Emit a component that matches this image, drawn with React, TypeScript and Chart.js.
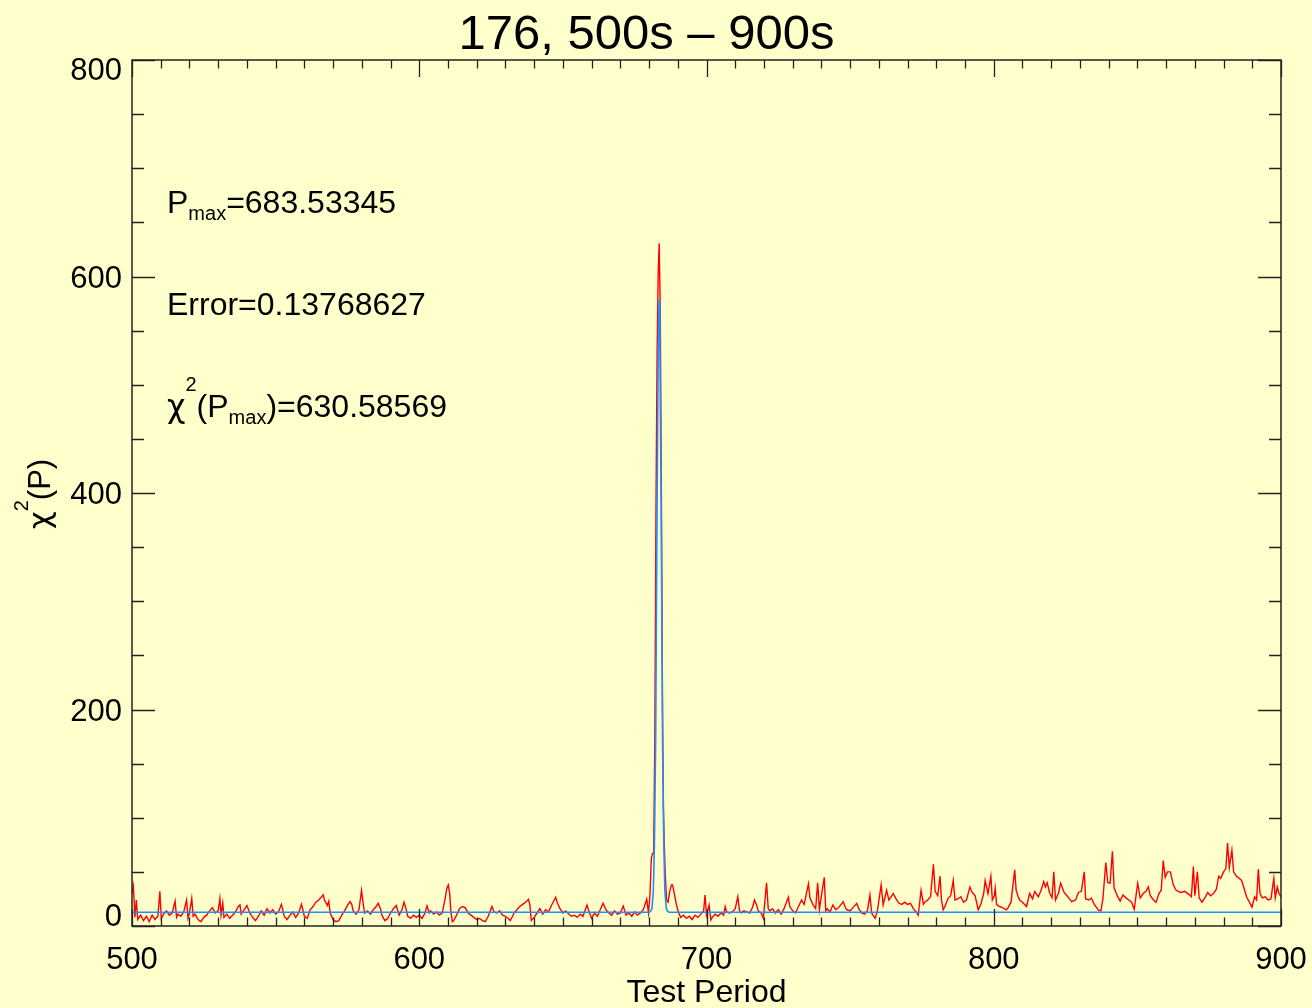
import React, { useEffect, useRef } from 'react';
import { Chart, registerables } from 'chart.js';

Chart.register(...registerables);

const FONT = '"Liberation Sans", Arial, Helvetica, sans-serif';
const GREEK_FONT = '"DejaVu Sans", "Liberation Sans", sans-serif';
const BG = '#FFFFCC';
const TITLE = '176, 500s \u2013 900s';
const X_TITLE = 'Test Period';
const X_RANGE = [500, 900];
const Y_RANGE = [0, 800];
const X_MAJOR_TICKS = [500, 600, 700, 800, 900];
const Y_MAJOR_TICKS = [0, 200, 400, 600, 800];
const X_MINOR_STEP = 10;
const Y_MINOR_STEP = 50;

const P_MAX_TEXT = '=683.53345';
const ERROR_TEXT = 'Error=0.13768627';
const CHI_MAX_TEXT = ')=630.58569';

// chi^2(P) observed (red) : [test period, chi^2]
const red500: number[][] = [
  [500, 30], [500.5, 37], [501, 8], [501.5, 24], [502, 6], [503, 10], [504, 5], [505, 9], [506, 4], [507, 10],
  [508, 6], [509, 9], [509.7, 32], [510.2, 7], [511, 11], [512, 14], [513, 10], [514, 12], [515, 23], [515.5, 8],
  [516, 11], [517, 9], [518, 13], [519, 24], [519.5, 7], [520, 12], [520.8, 25.5], [521.3, 9], [522, 11], [523, 6],
  [524, 4], [525, 8], [526, 10], [527, 14], [528, 17], [529, 12], [530, 14], [530.6, 25.6], [531, 10], [531.6, 21],
  [532, 8], [533, 11], [534, 7], [535, 10], [536, 13], [537, 18], [537.6, 19.5], [538, 11], [539, 15], [540, 19],
  [541, 12], [542, 8], [543, 5], [544, 9], [545, 14], [546, 10], [547, 16], [548, 12], [549, 15], [550, 11],
  [551, 13], [552, 20], [553, 9], [554, 6], [555, 10], [556, 13], [557, 8], [558, 12], [559, 20], [560, 9],
  [561, 7], [562, 15], [563, 18], [564, 22], [565, 24], [566, 27], [566.6, 28.7], [567, 24], [568, 19], [568.5, 23],
  [569, 12], [570, 6], [571, 4], [572, 5], [573, 10], [574, 14], [575, 19], [575.9, 22.5], [576.5, 20], [577, 14],
  [578, 11], [579, 15], [579.9, 33], [580.5, 20], [581, 12], [582, 14], [583, 11], [584, 15], [585, 18], [585.7, 21],
  [586.5, 16], [587, 10], [588, 5], [589, 7], [590, 12], [591, 16], [592, 19], [593, 10], [594, 15], [594.7, 22],
  [595.3, 17], [596, 9], [597, 7], [598, 10], [599, 8],
];

const red600: number[][] = [
  [600, 10], [601, 7], [602, 12], [602.7, 18.5], [603.5, 12], [604, 14], [605, 11], [606, 13], [607, 10], [608, 12],
  [609, 25], [609.6, 35], [610.1, 38], [610.6, 30], [611, 14], [611.5, 4], [612, 5], [613, 10], [614, 16], [615, 18],
  [616, 17], [617, 12], [618, 10], [619, 8], [620, 6], [621, 7], [622, 5], [623, 4], [624, 9], [625.3, 18],
  [626, 13], [627, 12], [628, 14], [629, 10], [630, 9], [631, 7], [631.7, 5], [632.5, 9], [633, 12], [634, 15],
  [635, 18], [636, 20], [637, 22], [638, 24.7], [638.5, 20], [639, 5], [640, 8], [641, 12], [642, 16], [643, 11],
  [644, 15], [645, 13], [646, 19], [647, 24], [647.5, 26.5], [648, 22], [649, 16], [650, 12], [651, 14], [652, 11],
  [653, 9], [654, 10], [655, 8], [656, 11], [657, 9], [658.4, 19.4], [659, 14], [660, 7], [661, 12], [662, 9],
  [663, 15], [664, 21], [665, 15], [666, 12], [667, 10], [668, 14], [669, 11], [670, 12], [671, 18.5], [672, 10],
  [673, 12], [674, 9], [675, 13], [676, 10], [677, 12], [678, 15], [679.2, 24.7], [679.8, 12], [680.3, 28], [680.8, 62],
  [681.2, 67], [681.6, 67], [682, 170], [682.4, 380], [682.8, 530], [683.2, 605], [683.53, 630.6], [683.9, 570], [684.3, 400], [684.7, 200],
  [685, 110], [685.3, 75], [685.7, 45], [686.1, 24], [686.6, 22], [687.2, 32], [687.8, 38], [688.2, 38], [688.8, 30], [689.5, 20],
  [690.2, 13], [691, 8], [692, 10], [693, 7], [694, 9], [695, 6], [696, 10], [697, 8], [698, 11], [699, 14],
  [699.5, 28.7],
];

const red700: number[][] = [
  [700, 10], [700.9, 19.4], [701.5, 5.5], [702, 8], [703, 11], [704, 9], [705, 12], [706, 10], [706.5, 18], [707, 13],
  [708, 12], [709, 13], [710, 16], [710.9, 27], [711.5, 14], [712, 12], [713, 14], [714, 13], [715, 12], [716, 17],
  [716.7, 24], [717.5, 19], [718, 14], [719, 12], [719.8, 7], [720.9, 40], [721.5, 16], [722, 14], [723, 16], [724, 12],
  [725, 15], [726, 11], [727, 16], [728.5, 26.5], [729, 18], [730, 14], [731, 12], [732, 18], [733.1, 24], [734, 20],
  [735.5, 39], [736, 26], [737, 20], [738, 16], [738.7, 40], [739.3, 15], [740, 28], [741, 45], [741.5, 14], [742, 16],
  [743, 13], [744, 19.4], [745, 15], [746, 17], [747.6, 22.5], [748.5, 16], [749, 15], [750, 14], [751, 17], [752.3, 21],
  [753, 16], [754, 12], [755, 11], [756, 14], [756.9, 28.7], [757.5, 12], [758.7, 7], [759.5, 14], [760.8, 38], [761.5, 19.4],
  [762.7, 33], [763.5, 24], [765, 30], [766, 25], [767, 21], [768, 20], [769, 22], [770, 20], [771, 21], [772, 16],
  [773, 13], [773.7, 10], [774.7, 33], [775.5, 20], [776, 22], [777, 24], [778, 27], [779, 57], [779.6, 32], [780.5, 28],
  [781.3, 46], [781.8, 24], [782.4, 15], [783, 18], [784.1, 25.6], [785, 28], [785.9, 42], [786.5, 24], [787.5, 25], [788.5, 27],
  [789.5, 22], [790.5, 24], [791.7, 36], [792.5, 31], [793.5, 28], [794.6, 15], [795.5, 20], [796.5, 30], [797, 42], [798, 30],
  [799, 46], [799.5, 24],
];

const red800: number[][] = [
  [800.2, 28], [800.5, 35], [801, 20], [802, 18], [803, 17], [804.4, 15], [805, 17], [806, 22], [807.3, 52], [807.8, 33],
  [808.5, 27], [809, 24], [810, 22], [811.4, 18], [812.5, 30], [813.5, 25], [814.3, 32], [815.5, 27], [816.5, 33], [817.4, 41],
  [818, 36], [818.6, 40], [819.5, 30], [820.3, 26], [820.9, 50], [821.5, 24], [822.5, 30], [823.3, 39.5], [824.5, 31], [825.5, 28],
  [827.1, 22.5], [828.5, 24], [829.5, 31], [830.5, 32], [831.5, 50], [832, 25], [833, 24], [834, 25.6], [835, 20], [836.5, 14.5],
  [837.3, 14], [838, 25], [839, 58.6], [839.7, 40], [840.5, 39.5], [841.3, 69], [841.9, 35], [843, 28], [844, 23], [845, 28.7],
  [846, 26], [847, 24], [848, 22], [848.9, 15.4], [850.1, 39.5], [851, 26], [852, 30], [853, 32], [853.8, 36], [854.5, 28],
  [855.6, 24], [856.5, 22], [857.5, 30], [858.3, 33], [859, 60.5], [859.7, 45], [860.5, 50], [861.5, 50], [862.5, 38], [863.5, 33],
  [865, 31], [866.5, 32], [868, 29], [868.8, 27], [869.5, 55], [870, 28], [870.9, 50], [871.5, 26], [872.5, 22], [873.5, 26],
  [874.5, 31], [875.5, 28], [876.5, 30], [877.5, 34], [878.3, 46], [879, 44], [880, 50], [880.8, 53], [881.4, 76.6], [882, 54],
  [882.9, 70], [883.5, 50], [884.5, 46], [885.5, 44], [886.3, 42], [887, 36], [888, 27], [889, 22], [889.9, 17.3], [890.8, 27],
  [891.5, 24], [892.1, 52.5], [892.7, 30], [893.5, 26], [894.5, 27], [895.5, 24], [896.5, 25], [897.5, 44], [898, 26], [898.7, 36],
  [899.3, 30], [900, 27],
];

// fitted curve (blue)
const blueFit: number[][] = [
  [500, 12.7], [680, 12.7], [680.5, 13.5], [681, 16], [681.5, 33], [681.9, 80], [682.3, 170], [682.8, 390],
  [683.2, 530], [683.5, 578], [683.8, 530], [684.2, 390], [684.7, 170], [685.1, 80], [685.5, 33], [686, 16],
  [686.5, 13.5], [687, 12.7], [900, 12.7],
];

type Seg = { t: string; size: number; dy?: number; font?: string };

function drawRich(ctx: CanvasRenderingContext2D, segs: Seg[], x: number, y: number, align: 'left' | 'center') {
  let total = 0;
  const widths: number[] = [];
  for (const s of segs) {
    ctx.font = `${s.size}px ${s.font || FONT}`;
    const w = ctx.measureText(s.t).width;
    widths.push(w);
    total += w;
  }
  let cx = align === 'center' ? x - total / 2 : x;
  ctx.textAlign = 'left';
  ctx.textBaseline = 'alphabetic';
  segs.forEach((s, i) => {
    ctx.font = `${s.size}px ${s.font || FONT}`;
    ctx.fillText(s.t, cx, y + (s.dy || 0));
    cx += widths[i];
  });
}

const idlPlugin = {
  id: 'idlFrame',
  beforeDraw(chart: any) {
    const ctx = chart.ctx as CanvasRenderingContext2D;
    ctx.save();
    ctx.fillStyle = BG;
    ctx.fillRect(0, 0, chart.width, chart.height);
    ctx.restore();
  },
  afterDraw(chart: any) {
    const ctx = chart.ctx as CanvasRenderingContext2D;
    const { left, right, top, bottom } = chart.chartArea;
    const xs = chart.scales.x;
    const ys = chart.scales.y;
    ctx.save();
    // frame
    ctx.strokeStyle = '#222';
    ctx.lineWidth = 1.5;
    ctx.strokeRect(left, top, right - left, bottom - top);

    // ticks
    ctx.lineWidth = 1.3;
    ctx.beginPath();
    for (let v = X_RANGE[0]; v <= X_RANGE[1]; v += X_MINOR_STEP) {
      const px = Math.round(xs.getPixelForValue(v)) + 0.5;
      const len = X_MAJOR_TICKS.includes(v) ? 17 : 8.5;
      ctx.moveTo(px, bottom); ctx.lineTo(px, bottom - len);
      ctx.moveTo(px, top); ctx.lineTo(px, top + len);
    }
    for (let v = Y_RANGE[0]; v <= Y_RANGE[1]; v += Y_MINOR_STEP) {
      const py = Math.round(ys.getPixelForValue(v)) + 0.5;
      const len = Y_MAJOR_TICKS.includes(v) ? 23 : 12;
      ctx.moveTo(left, py); ctx.lineTo(left + len, py);
      ctx.moveTo(right, py); ctx.lineTo(right - len, py);
    }
    ctx.stroke();

    ctx.fillStyle = '#000';
    // x tick labels
    ctx.font = `31px ${FONT}`;
    ctx.textAlign = 'center';
    ctx.textBaseline = 'alphabetic';
    for (const v of X_MAJOR_TICKS) {
      ctx.fillText(String(v), xs.getPixelForValue(v), 969);
    }
    // y tick labels
    ctx.textAlign = 'right';
    for (const v of Y_MAJOR_TICKS) {
      const py = ys.getPixelForValue(v);
      const c = Math.min(Math.max(py, top + 9), bottom - 11);
      ctx.fillText(String(v), left - 10, c + 11);
    }

    // title
    drawRich(ctx, [{ t: TITLE, size: 49 }], (left + right) / 2 - 60, 49, 'center');
    // x title
    drawRich(ctx, [{ t: X_TITLE, size: 32 }], (left + right) / 2, 1002, 'center');
    // y title (rotated)
    ctx.save();
    ctx.translate(50, 494);
    ctx.rotate(-Math.PI / 2);
    drawRich(ctx, [
      { t: '\u03C7', size: 31, font: GREEK_FONT },
      { t: '2', size: 20, dy: -22 },
      { t: '(P)', size: 31 },
    ], 0, 0, 'center');
    ctx.restore();

    // annotations
    drawRich(ctx, [
      { t: 'P', size: 32 },
      { t: 'max', size: 20, dy: 6.5 },
      { t: P_MAX_TEXT, size: 32 },
    ], 167, 213, 'left');
    drawRich(ctx, [{ t: ERROR_TEXT, size: 32 }], 167, 315, 'left');
    drawRich(ctx, [
      { t: '\u03C7', size: 32, font: GREEK_FONT },
      { t: '2', size: 20, dy: -26 },
      { t: '(P', size: 32 },
      { t: 'max', size: 20, dy: 6.5 },
      { t: CHI_MAX_TEXT, size: 32 },
    ], 167, 417, 'left');
    ctx.restore();
  },
};

const toPts = (arr: number[][]) => arr.map(([x, y]) => ({ x, y }));

export default function App() {
  const ref = useRef<HTMLCanvasElement | null>(null);
  useEffect(() => {
    if (!ref.current) return;
    const chart = new Chart(ref.current, {
      type: 'line',
      data: {
        datasets: [
          {
            label: 'chi2',
            data: toPts([...red500, ...red600, ...red700, ...red800]),
            borderColor: '#FF0000',
            borderWidth: 1.4,
            pointRadius: 0,
            tension: 0,
            fill: false,
            order: 2,
          },
          {
            label: 'fit',
            data: toPts(blueFit),
            borderColor: '#1E8FFF',
            borderWidth: 1.6,
            pointRadius: 0,
            tension: 0,
            fill: false,
            order: 1,
          },
        ],
      },
      options: {
        animation: false,
        responsive: false,
        maintainAspectRatio: false,
        layout: { padding: { left: 132, right: 31, top: 60, bottom: 82 } },
        plugins: {
          legend: { display: false },
          tooltip: { enabled: false },
          title: { display: false },
        },
        scales: {
          x: { type: 'linear', min: X_RANGE[0], max: X_RANGE[1], display: false },
          y: { type: 'linear', min: Y_RANGE[0], max: Y_RANGE[1], display: false },
        },
      },
      plugins: [idlPlugin],
    } as any);
    return () => chart.destroy();
  }, []);
  return (
    <div style={{ position: 'absolute', left: 0, top: 0, width: 1312, height: 1008, background: BG }}>
      <canvas ref={ref} width={1312} height={1008} style={{ display: 'block' }} />
    </div>
  );
}
